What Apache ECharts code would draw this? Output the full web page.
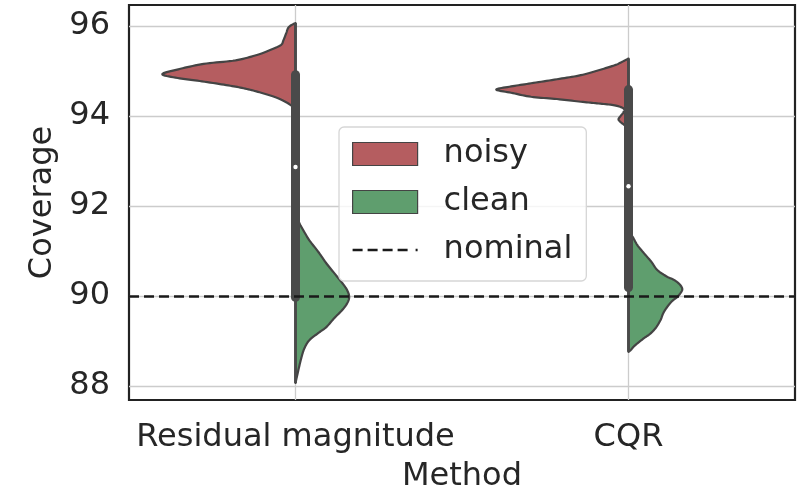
<!DOCTYPE html>
<html>
<head>
<meta charset="utf-8">
<script src="https://cdn.jsdelivr.net/npm/echarts@6/dist/echarts.min.js"></script>
<style>
  html, body { margin: 0; padding: 0; background: #ffffff; }
  #chart { width: 808px; height: 488px; }
</style>
</head>
<body>
<div id="chart"></div>
<script>
// Categories and reference level
const methods = ['Residual magnitude', 'CQR'];
const nominalCoverage = 90;

// Kernel density profiles: coverage values (%) and relative density (1 = widest half)
const residNoisyCov  = [96.07, 95.98, 95.84, 95.69, 95.58, 95.47, 95.36, 95.24, 95.16, 95.04, 94.93, 94.84, 94.78, 94.69, 94.62, 94.53, 94.42, 94.31, 94.20, 94.17];
const residNoisyDens = [0.00, 0.05, 0.07, 0.09, 0.11, 0.19, 0.29, 0.45, 0.69, 0.88, 1.00, 0.87, 0.72, 0.52, 0.39, 0.27, 0.15, 0.07, 0.015, 0.00];

const residCleanCov  = [91.87, 91.62, 91.42, 91.24, 90.98, 90.73, 90.51, 90.29, 90.13, 89.98, 89.84, 89.69, 89.51, 89.31, 89.18, 89.02, 88.84, 88.64, 88.36, 88.07];
const residCleanDens = [0.00, 0.03, 0.067, 0.104, 0.172, 0.231, 0.291, 0.351, 0.388, 0.403, 0.388, 0.351, 0.291, 0.231, 0.172, 0.104, 0.067, 0.045, 0.022, 0.00];

const cqrNoisyCov  = [95.28, 95.20, 95.13, 95.02, 94.91, 94.82, 94.73, 94.66, 94.59, 94.52, 94.43, 94.38, 94.32, 94.28, 94.24, 94.17, 94.09, 94.00, 93.93, 93.87, 93.78, 93.71];
const cqrNoisyDens = [0.00, 0.052, 0.104, 0.224, 0.358, 0.537, 0.731, 0.881, 0.993, 0.881, 0.731, 0.537, 0.358, 0.224, 0.104, 0.037, 0.037, 0.06, 0.075, 0.06, 0.022, 0.00];

const cqrCleanCov  = [91.42, 91.32, 91.13, 90.95, 90.76, 90.58, 90.44, 90.36, 90.27, 90.17, 90.09, 89.98, 89.89, 89.76, 89.62, 89.47, 89.31, 89.17, 89.07, 88.95, 88.87, 88.80, 88.76];
const cqrCleanDens = [0.00, 0.03, 0.067, 0.117, 0.172, 0.216, 0.284, 0.341, 0.381, 0.403, 0.396, 0.366, 0.328, 0.291, 0.261, 0.241, 0.209, 0.166, 0.119, 0.067, 0.037, 0.017, 0.00];

// Inner box summary per method (both groups pooled)
const boxMax    = [96.07, 95.28];
const boxQ3     = [94.92, 94.59];
const boxMedian = [92.87, 92.44];
const boxQ1     = [89.97, 90.19];
const boxMin    = [88.07, 88.76];

const noisyColor = '#b55d60';
const cleanColor = '#5f9e6e';
const edgeColor = '#444444';
const boxColor = '#4a4a4a';
const textColor = '#262626';
const gridColor = '#cccccc';
const fontFamily = 'DejaVu Sans';

const noisyProfiles = [
  { cov: residNoisyCov, dens: residNoisyDens },
  { cov: cqrNoisyCov, dens: cqrNoisyDens }
];
const cleanProfiles = [
  { cov: residCleanCov, dens: residCleanDens },
  { cov: cqrCleanCov, dens: cqrCleanDens }
];

// Catmull-Rom spline through pixel points, for a smooth outline
function spline(pts, steps) {
  const out = [];
  const n = pts.length;
  for (let i = 0; i < n - 1; i++) {
    const p0 = pts[Math.max(i - 1, 0)], p1 = pts[i], p2 = pts[i + 1], p3 = pts[Math.min(i + 2, n - 1)];
    for (let s = 0; s < steps; s++) {
      const t = s / steps, t2 = t * t, t3 = t2 * t;
      const f = (a, b, c, d) => 0.5 * (2 * b + (-a + c) * t + (2 * a - 5 * b + 4 * c - d) * t2 + (-a + 3 * b - 3 * c + d) * t3);
      out.push([f(p0[0], p1[0], p2[0], p3[0]), f(p0[1], p1[1], p2[1], p3[1])]);
    }
  }
  out.push(pts[n - 1]);
  return out;
}

// Half violin: side -1 draws to the left of the category centre, +1 to the right
function halfViolin(profiles, side, color) {
  return function (params, api) {
    const prof = profiles[params.dataIndex];
    const cat = api.value(0);
    const half = api.size([1, 0])[0] * 0.4;
    const pts = prof.cov.map(function (c, k) {
      const p = api.coord([cat, c]);
      return [p[0] + side * prof.dens[k] * half, p[1]];
    });
    const top = api.coord([cat, prof.cov[0]]);
    const bottom = api.coord([cat, prof.cov[prof.cov.length - 1]]);
    const outline = [top].concat(spline(pts, 10), [bottom]);
    return {
      type: 'polygon',
      shape: { points: outline },
      style: { fill: color, stroke: edgeColor, lineWidth: 2.2, lineJoin: 'round' }
    };
  };
}

function innerBox(params, api) {
  const cat = api.value(0);
  const pMin = api.coord([cat, api.value(1)]);
  const pQ1 = api.coord([cat, api.value(2)]);
  const pMed = api.coord([cat, api.value(3)]);
  const pQ3 = api.coord([cat, api.value(4)]);
  const pMax = api.coord([cat, api.value(5)]);
  return {
    type: 'group',
    children: [
      { type: 'line', shape: { x1: pMin[0], y1: pMin[1], x2: pMax[0], y2: pMax[1] },
        style: { stroke: boxColor, lineWidth: 2.8 } },
      { type: 'line', shape: { x1: pQ1[0], y1: pQ1[1], x2: pQ3[0], y2: pQ3[1] },
        style: { stroke: boxColor, lineWidth: 9, lineCap: 'round' } },
      { type: 'circle', shape: { cx: pMed[0], cy: pMed[1], r: 2.2 },
        style: { fill: '#ffffff' } }
    ]
  };
}

const dashIcon = 'path://M0,0h10v2.5h-10z M15,0h10v2.5h-10z M30,0h10v2.5h-10z M45,0h10v2.5h-10z M63,0h2v2.5h-2z';

const chart = echarts.init(document.getElementById('chart'), null, { renderer: 'canvas' });
chart.setOption({
  animation: false,
  backgroundColor: '#ffffff',
  textStyle: { fontFamily: fontFamily, color: textColor },
  grid: {
    left: 129, right: 13, top: 5, bottom: 88,
    outerBoundsMode: 'none',
    containLabel: false,
    show: true, borderColor: '#222222', borderWidth: 2.2, backgroundColor: 'transparent'
  },
  legend: {
    orient: 'vertical',
    left: 339, top: 127,
    padding: [11, 14, 15, 13],
    itemWidth: 65, itemHeight: 23, itemGap: 16,
    backgroundColor: 'rgba(255,255,255,0.8)',
    borderColor: '#d6d6d6', borderWidth: 1.3, borderRadius: 5,
    textStyle: { fontSize: 32, color: textColor, fontFamily: fontFamily, padding: [0, 0, 0, 21] },
    data: [
      { name: 'noisy', icon: 'rect', itemStyle: { color: noisyColor, borderColor: edgeColor, borderWidth: 1.2 } },
      { name: 'clean', icon: 'rect', itemStyle: { color: cleanColor, borderColor: edgeColor, borderWidth: 1.2 } },
      { name: 'nominal', icon: dashIcon, itemStyle: { color: '#1a1a1a', borderWidth: 0 } }
    ]
  },
  xAxis: {
    type: 'category',
    data: methods,
    boundaryGap: true,
    name: 'Method',
    nameLocation: 'middle',
    nameGap: 61,
    nameTextStyle: { fontSize: 32, color: textColor, fontFamily: fontFamily },
    axisLine: { show: false },
    axisTick: { show: false },
    axisLabel: { interval: 0, fontSize: 32, color: textColor, margin: 22, fontFamily: fontFamily },
    splitLine: { show: false }
  },
  yAxis: {
    type: 'value',
    min: 87.69, max: 96.47,
    splitNumber: 5,
    name: 'Coverage',
    nameLocation: 'middle',
    nameGap: 70,
    nameRotate: 90,
    nameTextStyle: { fontSize: 32, color: textColor, fontFamily: fontFamily },
    axisLine: { show: false },
    axisTick: { show: false },
    axisLabel: {
      fontSize: 32, color: textColor, margin: 19, fontFamily: fontFamily,
      showMinLabel: false, showMaxLabel: false,
      formatter: function (v) { return Math.abs(v - Math.round(v)) < 1e-6 ? String(Math.round(v)) : ''; }
    },
    splitLine: { show: true, showMinLine: false, showMaxLine: false, lineStyle: { color: gridColor, width: 1.3 } }
  },
  series: [
    {
      // vertical grid lines through each category centre
      name: 'categoryGrid', type: 'line', z: 1,
      data: [],
      markLine: {
        z: 1,
        silent: true, symbol: 'none', label: { show: false },
        lineStyle: { color: gridColor, width: 1.3, type: 'solid' },
        data: methods.map(function (m) { return { xAxis: m }; })
      }
    },
    {
      name: 'noisy', type: 'custom', z: 2,
      itemStyle: { color: noisyColor },
      renderItem: halfViolin(noisyProfiles, -1, noisyColor),
      encode: { x: 0, y: 1 },
      data: methods.map(function (m, i) { return [i, boxMedian[i]]; })
    },
    {
      name: 'clean', type: 'custom', z: 2,
      itemStyle: { color: cleanColor },
      renderItem: halfViolin(cleanProfiles, 1, cleanColor),
      encode: { x: 0, y: 1 },
      data: methods.map(function (m, i) { return [i, boxMedian[i]]; })
    },
    {
      name: 'box', type: 'custom', z: 3,
      renderItem: innerBox,
      encode: { x: 0, y: [1, 2, 3, 4, 5] },
      data: methods.map(function (m, i) { return [i, boxMin[i], boxQ1[i], boxMedian[i], boxQ3[i], boxMax[i]]; })
    },
    {
      name: 'nominal', type: 'line', z: 4,
      data: [],
      itemStyle: { color: '#1a1a1a' },
      markLine: {
        silent: true, symbol: 'none', label: { show: false },
        lineStyle: { color: '#1a1a1a', width: 2.5, type: [10, 5] },
        data: [{ yAxis: nominalCoverage }]
      }
    }
  ]
});
</script>
</body>
</html>
